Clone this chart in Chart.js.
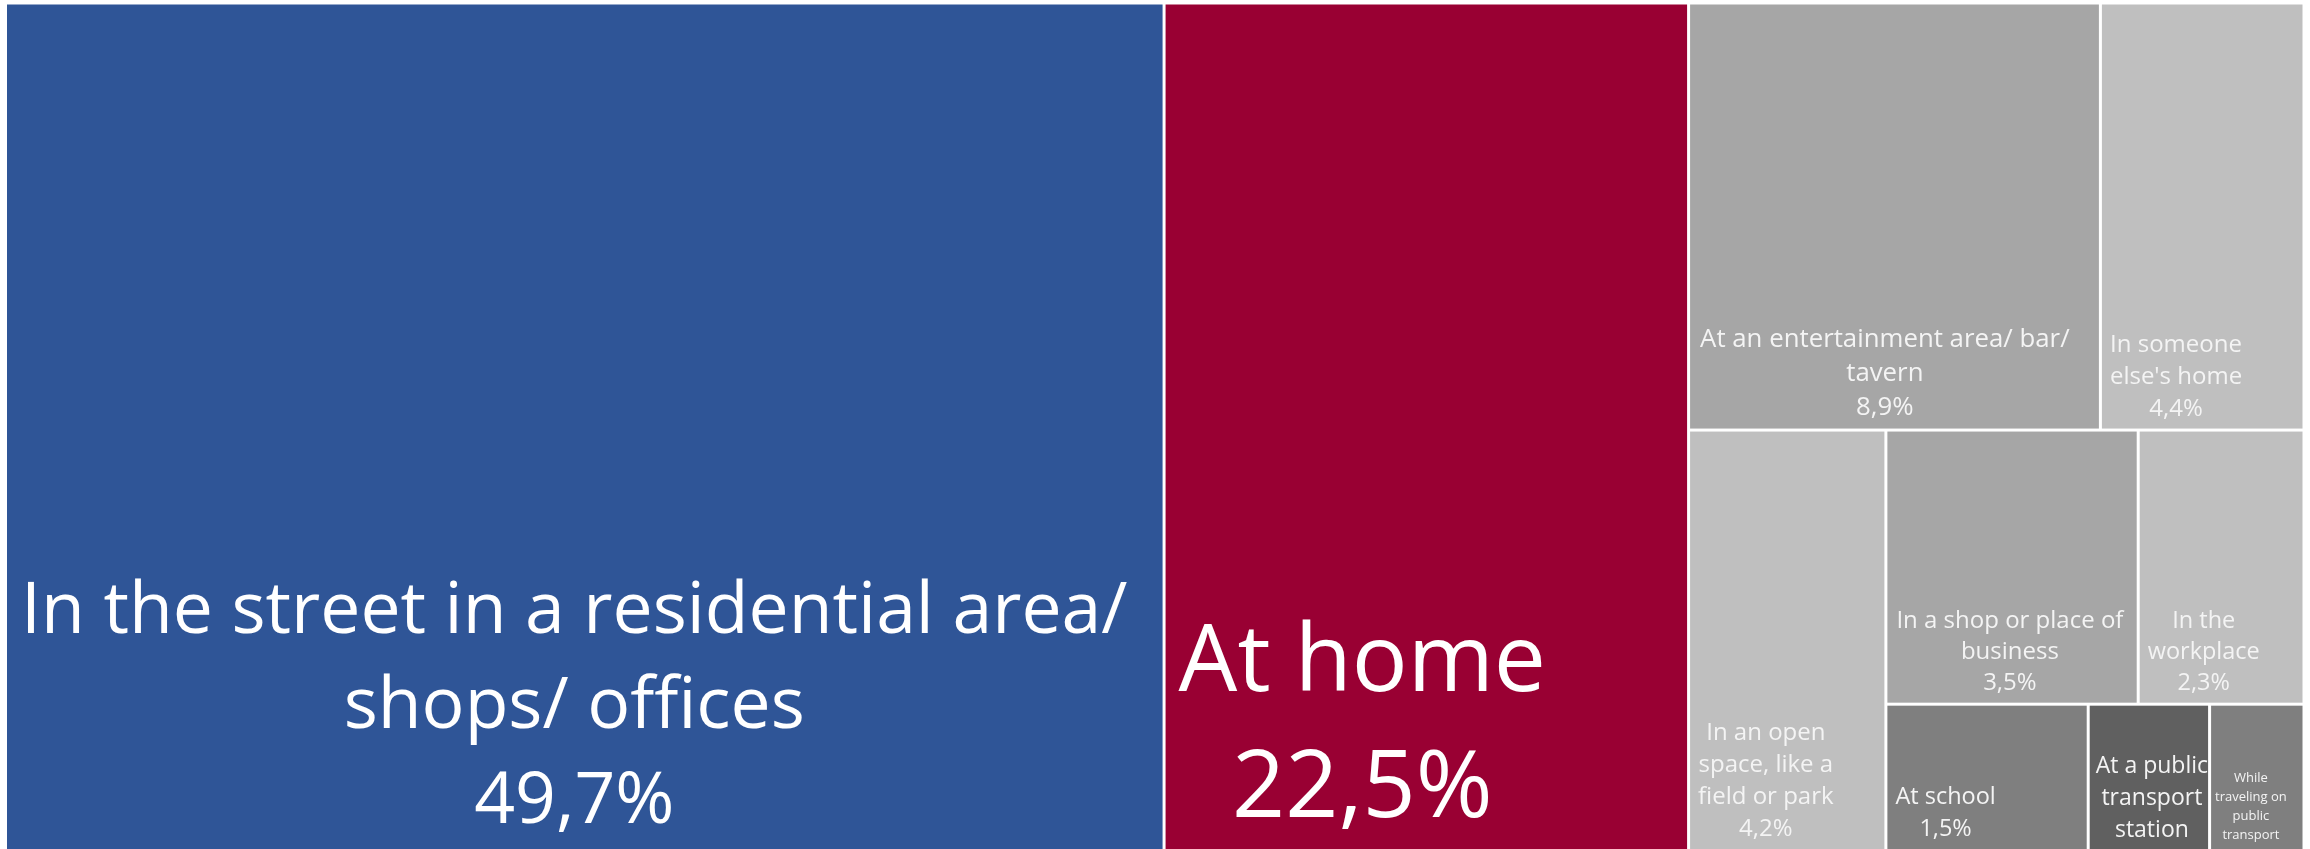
<!DOCTYPE html>
<html>
<head>
<meta charset="utf-8">
<script src="https://cdn.jsdelivr.net/npm/chart.js@4.4.1/dist/chart.umd.min.js"></script>
<style>
  html, body { margin: 0; padding: 0; background: #fff; }
  #wrap { width: 2310px; height: 849px; position: relative; }
</style>
</head>
<body>
<div id="wrap"><canvas id="myChart"></canvas></div>
<script>
// categories and their share of incidents (%)
const categories = [
  'In the street in a residential area/ shops/ offices',
  'At home',
  'At an entertainment area/ bar/ tavern',
  "In someone else's home",
  'In an open space, like a field or park',
  'In a shop or place of business',
  'In the workplace',
  'At school',
  'At a public transport station',
  'While traveling on public transport'
];
const shares = [49.7, 22.5, 8.9, 4.4, 4.2, 3.5, 2.3, 1.5, 0.9, 0.7];

const colors = ['#2F5597', '#990033', '#A6A6A6', '#BFBFBF', '#BFBFBF',
                '#A6A6A6', '#BFBFBF', '#7F7F7F', '#606060', '#7F7F7F'];

// label style per cell: font size, line height, left padding, show value
const labelStyles = [
  { size: 71.5, lh: 95, pad: 14, value: true },
  { size: 93, lh: 126, pad: 13, value: true },
  { size: 25.8, lh: 34, pad: 10, value: true },
  { size: 24, lh: 32, pad: 8, value: true },
  { size: 24, lh: 32, pad: 8, value: true },
  { size: 24, lh: 31, pad: 9, value: true },
  { size: 23.5, lh: 31, pad: 8, value: true },
  { size: 23.5, lh: 32, pad: 8, value: true },
  { size: 23, lh: 32, pad: 6, value: false },
  { size: 13, lh: 19, pad: 4, value: false }
];

// how the cells are nested: 'row' = side by side, 'col' = stacked
const nesting = ['row', 0, 1,
  ['col', ['row', 2, 3],
          ['row', 4, ['col', ['row', 5, 6], ['row', 7, 8, 9]]]]];

function sumOf(node) {
  if (typeof node === 'number') return shares[node];
  let s = 0;
  for (let i = 1; i < node.length; i++) s += sumOf(node[i]);
  return s;
}

const rects = [];
function place(node, x0, x1, yTop, yBot) {
  if (typeof node === 'number') {
    rects[node] = { x0: x0, x1: x1, yTop: yTop, yBot: yBot };
    return;
  }
  const total = sumOf(node);
  let pos = node[0] === 'row' ? x0 : yTop;
  for (let i = 1; i < node.length; i++) {
    const f = sumOf(node[i]) / total;
    if (node[0] === 'row') {
      const w = (x1 - x0) * f;
      place(node[i], pos, pos + w, yTop, yBot);
      pos += w;
    } else {
      const h = (yTop - yBot) * f;
      place(node[i], x0, x1, pos, pos - h);
      pos -= h;
    }
  }
}
place(nesting, 0, 1, 1, 0);

const fmt = v => v.toFixed(1).replace('.', ',') + '%';
const FONT = "'Open Sans', 'Noto Sans', sans-serif";

function wrap(ctx, text, maxW) {
  const words = text.split(' ');
  const lines = [];
  let cur = '';
  for (const w of words) {
    const t = cur ? cur + ' ' + w : w;
    if (cur && ctx.measureText(t).width > maxW) {
      lines.push(cur);
      cur = w;
    } else {
      cur = t;
    }
  }
  if (cur) lines.push(cur);
  return lines;
}

const treemapPlugin = {
  id: 'treemap',
  afterDatasetsDraw(chart) {
    const { ctx, scales: { x, y } } = chart;
    const gap = 3;
    ctx.save();
    rects.forEach((r, i) => {
      const left = x.getPixelForValue(r.x0) + gap / 2;
      const right = x.getPixelForValue(r.x1) - gap / 2;
      const top = y.getPixelForValue(r.yTop) + gap / 2;
      const bottom = y.getPixelForValue(r.yBot) - gap / 2;
      ctx.fillStyle = colors[i];
      ctx.fillRect(left, top, right - left, bottom - top);

      const st = labelStyles[i];
      ctx.font = st.size + 'px ' + FONT;
      const lines = wrap(ctx, categories[i], right - left - st.pad);
      if (st.value) lines.push(fmt(shares[i]));
      let blockW = 0;
      lines.forEach(l => { blockW = Math.max(blockW, ctx.measureText(l).width); });
      const cx = left + st.pad + blockW / 2;
      const lastBase = Math.min(bottom, 849) - 6 - 0.28 * st.size;
      ctx.fillStyle = i < 2 ? '#ffffff' : '#f4f4f4';
      ctx.textAlign = 'center';
      ctx.textBaseline = 'alphabetic';
      lines.forEach((l, k) => {
        ctx.fillText(l, cx, lastBase - (lines.length - 1 - k) * st.lh);
      });
    });
    ctx.restore();
  }
};

new Chart(document.getElementById('myChart'), {
  type: 'scatter',
  data: {
    datasets: [{
      label: 'Share',
      data: rects.map(r => ({ x: (r.x0 + r.x1) / 2, y: (r.yTop + r.yBot) / 2 })),
      pointRadius: 0
    }]
  },
  options: {
    responsive: true,
    maintainAspectRatio: false,
    animation: false,
    layout: { padding: { left: 5.5, top: 3, right: 6, bottom: 0 } },
    scales: {
      x: { type: 'linear', min: 0, max: 1, display: false },
      y: { type: 'linear', min: 0.002, max: 1, display: false }
    },
    plugins: { legend: { display: false }, tooltip: { enabled: false } }
  },
  plugins: [treemapPlugin]
});
</script>
</body>
</html>
